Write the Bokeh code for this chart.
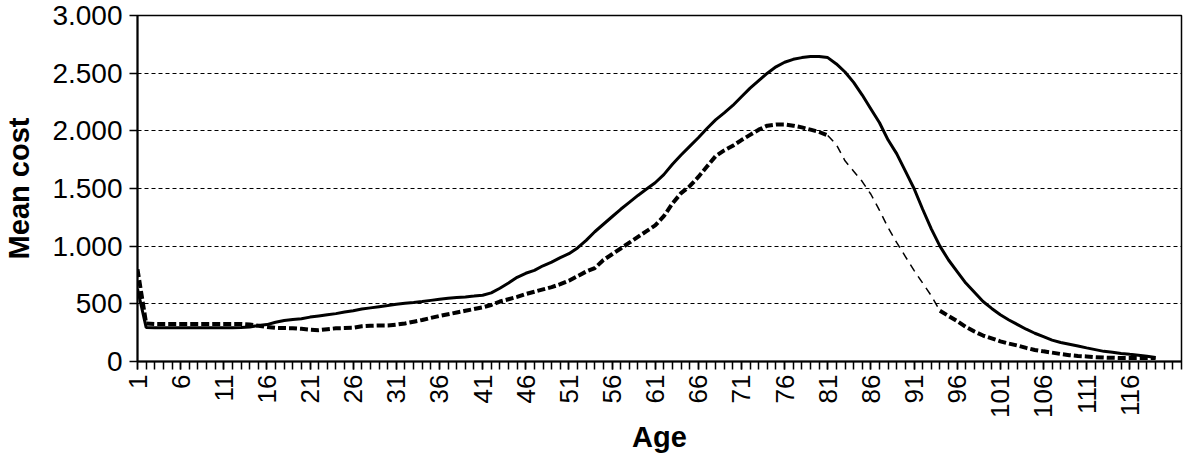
import math
from bokeh.plotting import figure
from bokeh.models import Range1d, FixedTicker
from bokeh.embed import file_html
from bokeh.resources import INLINE

ages = list(range(1, 120))

solid = [630, 295, 292, 292, 292, 292, 292, 292, 292, 292,
         292, 292, 295, 300, 312, 320, 340, 355, 365, 370,
         385, 395, 405, 415, 430, 440, 455, 465, 475, 485,
         497, 505, 512, 520, 530, 540, 548, 555, 560, 567,
         575, 595, 635, 680, 730, 765, 790, 830, 862, 900,
         935, 985, 1050, 1125, 1190, 1255, 1320, 1380, 1440, 1495,
         1550, 1620, 1710, 1790, 1865, 1940, 2020, 2095, 2156, 2220,
         2295, 2370, 2435, 2500, 2555, 2595, 2620, 2635, 2645, 2645,
         2635, 2580, 2510, 2420, 2310, 2190, 2070, 1920, 1800, 1650,
         1500, 1320, 1150, 1000, 880, 780, 680, 600, 520, 460,
         405, 360, 320, 280, 245, 215, 185, 165, 150, 135,
         118, 103, 88, 80, 70, 62, 55, 45, 35]

dashed = [800, 330, 325, 325, 325, 325, 325, 325, 325, 325,
          325, 325, 325, 320, 310, 300, 292, 290, 288, 283,
          275, 272, 280, 288, 290, 292, 305, 310, 312, 312,
          320, 330, 345, 360, 378, 395, 410, 425, 440, 455,
          470, 490, 520, 540, 560, 585, 605, 625, 645, 670,
          700, 740, 780, 810, 880, 930, 980, 1030, 1080, 1130,
          1180, 1260, 1370, 1460, 1520, 1600, 1690, 1780, 1830, 1870,
          1920, 1965, 2010, 2045, 2055, 2055, 2045, 2030, 2010, 1990,
          1960, 1880, 1740, 1650, 1560, 1450, 1310, 1160, 1030, 910,
          790, 680, 570, 440, 395, 350, 300, 260, 225, 200,
          175, 155, 138, 118, 100, 88, 77, 65, 55, 48,
          44, 38, 34, 32, 30, 30, 30, 30, 30]

y_ticks = [0, 500, 1000, 1500, 2000, 2500, 3000]
y_tick_labels = ["0", "500", "1.000", "1.500", "2.000", "2.500", "3.000"]
x_label_ages = list(range(1, 117, 5))
x_all_ticks = list(range(1, 123))

FONT = "Liberation Sans"

p = figure(width=1184, height=455, output_backend="svg", toolbar_location=None,
           x_range=Range1d(1, 122), y_range=Range1d(0, 3000),
           min_border_left=129, min_border_right=3, min_border_top=15,
           min_border_bottom=80, background_fill_color="white",
           border_fill_color="white")

# gridlines
p.xgrid.visible = False
p.ygrid.grid_line_color = "black"
p.ygrid.grid_line_dash = "4 3"
p.ygrid.grid_line_width = 1

# series
p.line(ages, solid, line_color="black", line_width=3)
p.line(ages[:81], dashed[:81], line_color="black", line_width=4, line_dash="8 3")
p.line(ages[80:94], dashed[80:94], line_color="black", line_width=1.5, line_dash="8 6")
p.line(ages[93:], dashed[93:], line_color="black", line_width=4, line_dash="8 3")

p.outline_line_color = "black"
p.outline_line_width = 1.5
p.outline_line_alpha = 1

# y axis
ya = p.yaxis[0]
ya.ticker = FixedTicker(ticks=y_ticks)
ya.major_label_overrides = {t: l for t, l in zip(y_ticks, y_tick_labels)}
ya.minor_tick_line_color = None
ya.major_tick_in = 0
ya.major_tick_out = 8
ya.major_tick_line_width = 1.5
ya.major_tick_line_color = "black"
ya.axis_line_color = "black"
ya.axis_line_width = 2
ya.major_label_text_font = FONT
ya.major_label_text_font_size = "28px"
ya.major_label_text_color = "black"
ya.major_label_standoff = 7
ya.axis_label = "Mean cost"
ya.axis_label_text_font = FONT
ya.axis_label_text_font_style = "bold"
ya.axis_label_text_font_size = "29px"
ya.axis_label_text_color = "black"
ya.axis_label_standoff = 14

# x axis
xa = p.xaxis[0]
xa.ticker = FixedTicker(ticks=x_label_ages, minor_ticks=x_all_ticks)
xa.major_tick_in = 0
xa.major_tick_out = 8
xa.minor_tick_in = 0
xa.minor_tick_out = 8
xa.major_tick_line_width = 1.5
xa.minor_tick_line_width = 1.5
xa.major_tick_line_color = "black"
xa.minor_tick_line_color = "black"
xa.axis_line_color = "black"
xa.axis_line_width = 2
xa.major_label_orientation = math.pi / 2
xa.major_label_text_font = FONT
xa.major_label_text_font_size = "26px"
xa.major_label_text_color = "black"
xa.major_label_standoff = 5
xa.axis_label = "Age"
xa.axis_label_text_font = FONT
xa.axis_label_text_font_style = "bold"
xa.axis_label_text_font_size = "29px"
xa.axis_label_text_color = "black"
xa.axis_label_standoff = 0

open("out.html", "w").write(file_html(p, INLINE))
